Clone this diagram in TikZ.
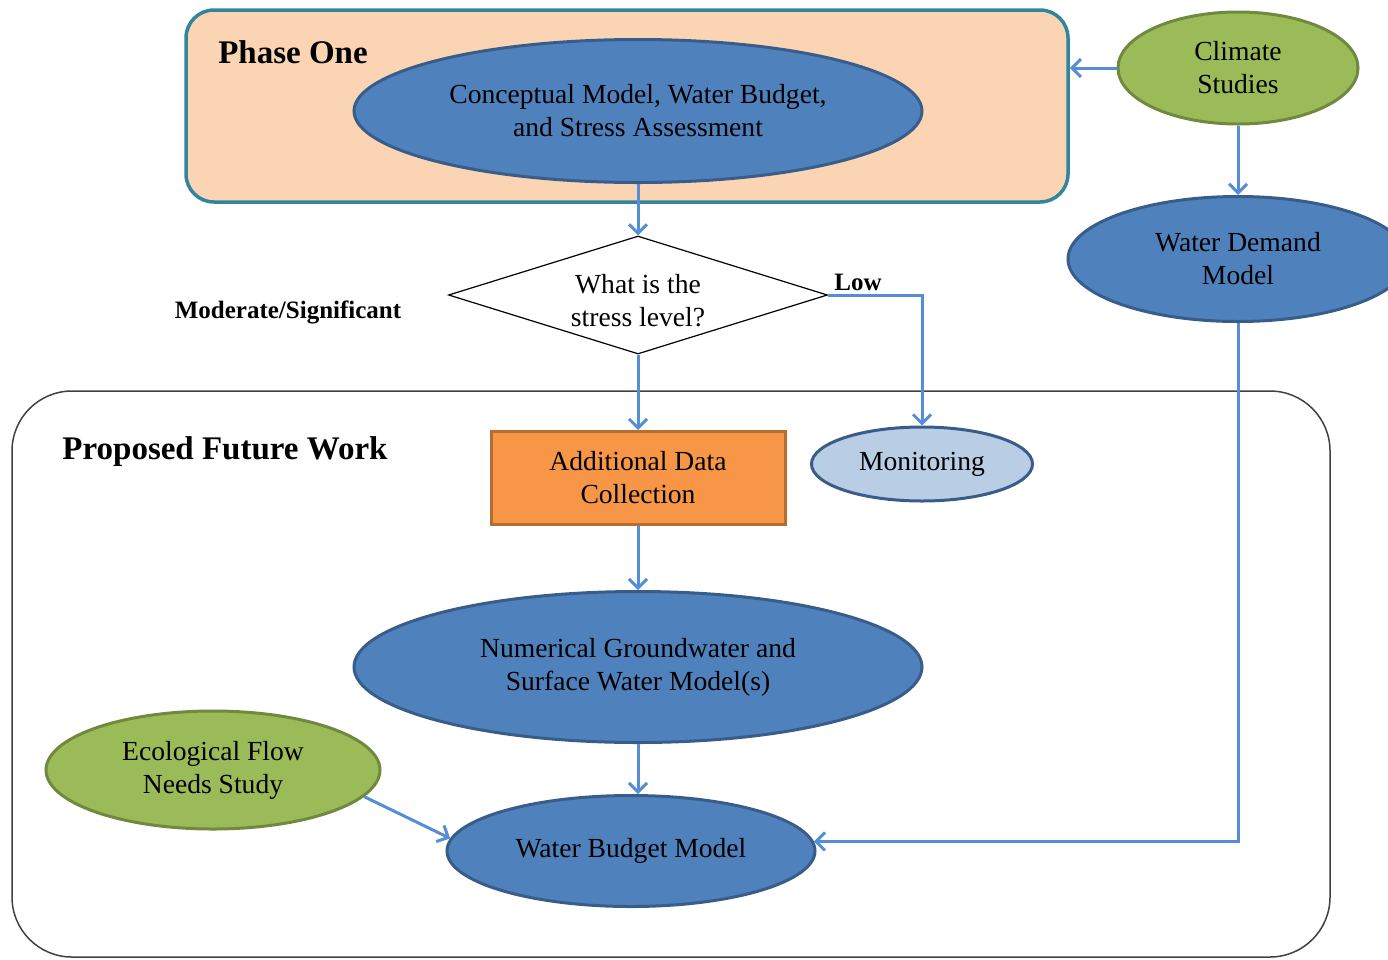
\documentclass[tikz,border=0pt]{standalone}
\usepackage{fontspec}
\setmainfont{Liberation Serif}
\usetikzlibrary{shapes.geometric,arrows.meta}
\definecolor{peach}{RGB}{251,212,180}
\definecolor{teal}{RGB}{49,133,156}
\definecolor{bluefill}{RGB}{79,129,189}
\definecolor{bluedark}{RGB}{56,93,138}
\definecolor{greenfill}{RGB}{155,187,89}
\definecolor{greendark}{RGB}{113,137,63}
\definecolor{orangefill}{RGB}{247,150,70}
\definecolor{orangedark}{RGB}{182,109,49}
\definecolor{lightfill}{RGB}{185,205,229}
\definecolor{flowblue}{RGB}{85,142,213}
\begin{document}
\begin{tikzpicture}[x=1pt, y=-1pt, >={Straight Barb[length=9pt,width=18pt]},
  every node/.style={font=\fontsize{27.6}{33}\selectfont, align=center},
  head/.style={font=\bfseries\fontsize{33}{38}\selectfont},
  lbl/.style={font=\bfseries\fontsize{25}{28}\selectfont},
  blueell/.style={ellipse, draw=bluedark, fill=bluefill, line width=3pt, inner sep=0pt},
  greenell/.style={ellipse, draw=greendark, fill=greenfill, line width=3pt, inner sep=0pt},
  flow/.style={->, draw=flowblue, line width=3pt}]
\useasboundingbox (0,0) rectangle (1388,959);
\node[draw=teal, fill=peach, line width=3.5pt, rounded corners=28pt, minimum width=882, minimum height=192] (phase) at (627,106) {};
\node[draw=black!75, line width=1.5pt, rounded corners=60pt, minimum width=1318, minimum height=566] (future) at (671,674) {};
\node[head] (phaselbl) at (293,52) {Phase One};
\node[head] (futurelbl) at (225,452) {Proposed Future Work};
\node[blueell, minimum width=568, minimum height=143] (concept) at (638,111) {Conceptual Model, Water Budget,\\and Stress Assessment};
\node[greenell, minimum width=240, minimum height=112] (clim) at (1238,68) {Climate\\Studies};
\node[blueell, minimum width=340, minimum height=125] (wdm) at (1238,259) {Water Demand\\Model};
\node[diamond, draw=black, fill=white, line width=1.2pt, aspect=3.2, inner sep=0pt, minimum width=379, minimum height=118] (stress) at (638,295) {\raisebox{0pt}[\height][\dimexpr\depth-16pt\relax]{\begin{tabular}{@{}c@{}}What is the\\stress level?\end{tabular}}};
\node[lbl] (modlbl) at (288,312) {Moderate/Significant};
\node[lbl] (lowlbl) at (858,282) {Low};
\node[draw=orangedark, fill=orangefill, line width=3pt, minimum width=294, minimum height=93] (adc) at (638,478) {Additional Data\\Collection};
\node[ellipse, draw=bluedark, fill=lightfill, line width=3pt, inner sep=0pt, minimum width=221, minimum height=74] (mon) at (922,464) {Monitoring};
\node[blueell, minimum width=568, minimum height=151] (num) at (638,667) {Numerical Groundwater and\\Surface Water Model(s)};
\node[greenell, minimum width=334, minimum height=118] (eco) at (213,770) {Ecological Flow\\Needs Study};
\node[blueell, minimum width=368, minimum height=111] (wbm) at (631,851) {Water Budget Model};
\draw[flow] (concept.south) -- (stress.north);
\draw[flow] (stress) -- (adc);
\draw[flow] (stress.east) -| (mon.north);
\draw[flow] (clim) -- (clim -| phase.east);
\draw[flow] (clim) -- (wdm);
\draw[flow] (wdm.south) |- (wbm.3);
\draw[flow] (adc) -- (num);
\draw[flow] (num.south) -- (num.south |- wbm.north);
\draw[flow] (eco.-10) -- (wbm.176);
\end{tikzpicture}
\end{document}
